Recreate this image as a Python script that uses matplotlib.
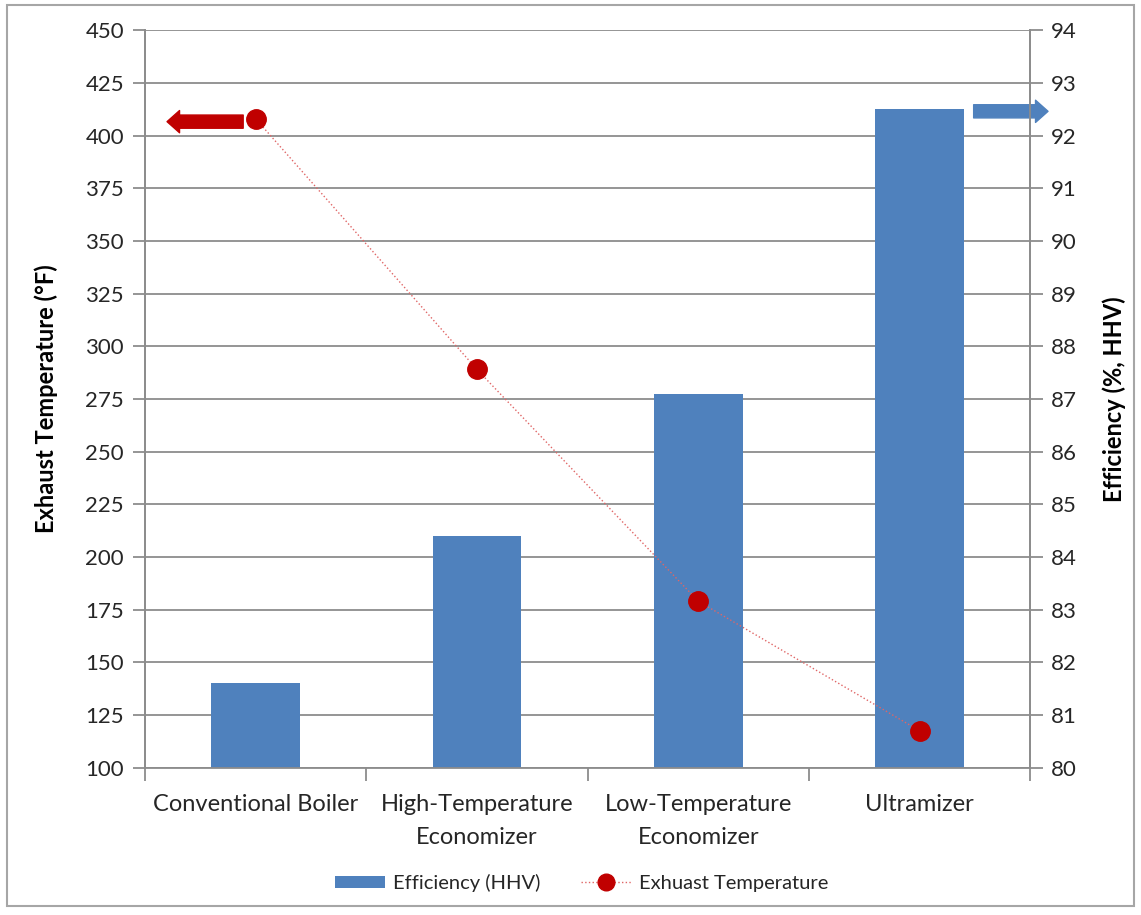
import matplotlib.pyplot as plt
from matplotlib.patches import Rectangle
from matplotlib.lines import Line2D
from matplotlib.patches import Patch

plt.rcParams['font.family'] = ['Lato', 'DejaVu Sans']

# data
categories = ['Conventional Boiler', 'High-Temperature\nEconomizer',
              'Low-Temperature\nEconomizer', 'Ultramizer']
efficiency = [81.6, 84.4, 87.1, 92.5]          # % HHV, right axis
exhaust_temp = [408, 289, 179, 117.5]          # deg F, left axis

temp_ticks = list(range(100, 451, 25))
eff_ticks = list(range(80, 95))

blue = '#4f81bd'
red = '#c00000'
grid_grey = '#8c8c8c'
txt = '#262626'

fig = plt.figure(figsize=(11.41, 9.15), dpi=100)
ax2 = fig.add_axes([0.127, 0.161, 0.776, 0.806])   # efficiency (bars)
ax = fig.add_axes([0.127, 0.161, 0.776, 0.806], sharex=ax2)  # temperature (line)
ax.set_zorder(ax2.get_zorder() + 1)
ax.patch.set_visible(False)

x = list(range(len(categories)))

# bars on the efficiency axis (right side)
ax2.bar(x, efficiency, width=0.4, color=blue, zorder=2)
ax2.set_ylim(80, 94)
ax2.set_yticks(eff_ticks)
ax2.yaxis.tick_right()
ax2.yaxis.set_label_position('right')
ax2.set_ylabel('Efficiency (%, HHV)', fontsize=17, fontweight='bold', labelpad=18)
ax2.grid(axis='y', color=grid_grey, linewidth=1.3)
ax2.set_axisbelow(True)
ax2.set_xlim(-0.5, len(categories) - 0.5)

# line on the temperature axis (left side)
ax.plot(x, exhaust_temp, color='#e06666', linestyle=':', linewidth=1.0,
        marker='o', markersize=14, markerfacecolor=red, markeredgecolor=red)
ax.set_ylim(100, 450)
ax.set_yticks(temp_ticks)
ax.set_ylabel('Exhaust Temperature (°F)', fontsize=17, fontweight='bold', labelpad=20)

# category ticks sit at the boundaries, labels at the centers
ax2.set_xticks([i + 0.5 for i in range(-1, len(categories))])
ax2.set_xticklabels([])
ax2.tick_params(axis='x', length=9, color=grid_grey, width=1.3)
ax2.set_xticks(x, minor=True)
ax2.set_xticklabels(categories, minor=True, fontsize=17, color=txt, linespacing=1.7)
ax2.tick_params(axis='x', which='minor', length=0, pad=19)
ax.tick_params(axis='x', which='both', length=0, labelbottom=False)

for a in (ax, ax2):
    a.spines['top'].set_visible(False)
    for s in ('left', 'right', 'bottom'):
        a.spines[s].set_color(grid_grey)
        a.spines[s].set_linewidth(1.3)
ax.spines['bottom'].set_visible(False)
ax.tick_params(axis='y', length=9, color=grid_grey, width=1.3, labelsize=16,
               labelcolor=txt, pad=6)
ax2.tick_params(axis='y', length=9, color=grid_grey, width=1.3, labelsize=16,
                labelcolor=txt, pad=6)

# direction arrows
arrow_style = 'simple,head_length=0.9,head_width=1.6,tail_width=0.95'
ax.annotate('', xy=(0.025, 0.876), xycoords='axes fraction',
            xytext=(0.111, 0.876), textcoords='axes fraction',
            arrowprops=dict(arrowstyle=arrow_style, color=red, shrinkA=0, shrinkB=0))
ax2.annotate('', xy=(1.02, 0.890), xycoords='axes fraction',
             xytext=(0.936, 0.890), textcoords='axes fraction',
             arrowprops=dict(arrowstyle=arrow_style, color=blue, shrinkA=0, shrinkB=0),
             annotation_clip=False)

# legend
handles = [Patch(facecolor=blue, edgecolor='none', label='Efficiency (HHV)'),
           Line2D([0], [0], color='#e06666', linestyle=':', linewidth=1.0, marker='o',
                  markersize=12, markerfacecolor=red, markeredgecolor=red,
                  label='Exhuast Temperature')]
fig.legend(handles=handles, loc='center', bbox_to_anchor=(0.51, 0.035), ncol=2,
           frameon=False, fontsize=14.5, handlelength=2.5, handleheight=0.55,
           columnspacing=2.0, handletextpad=0.4, labelcolor=txt)

# grey outer frame
fig.patches.append(Rectangle((0.006, 0.01), 0.988, 0.984, transform=fig.transFigure,
                             fill=False, edgecolor='#a6a6a6', linewidth=1.5))

fig.savefig('out.png', dpi=100)
